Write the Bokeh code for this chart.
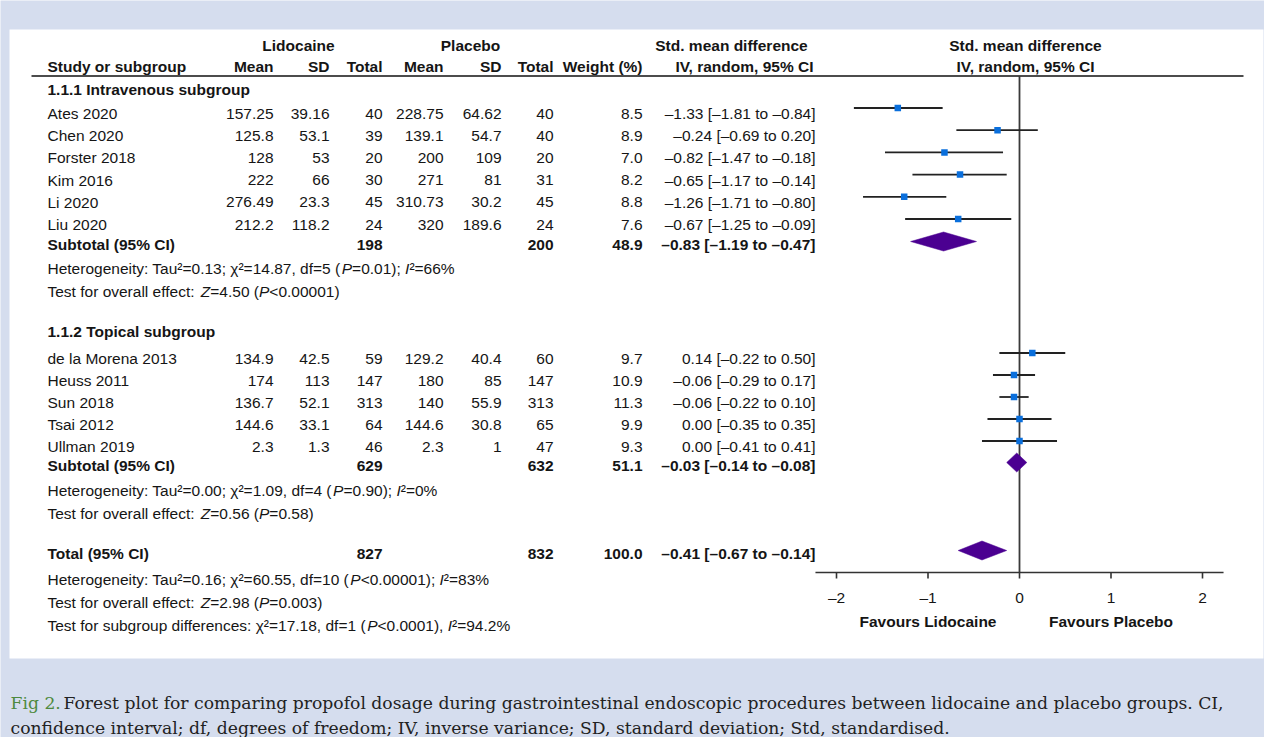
from bokeh.plotting import figure
from bokeh.models import Range1d
from bokeh.embed import file_html
from bokeh.resources import INLINE
from bokeh.core.properties import value

# ---------------- data ----------------
studies = ["Ates 2020", "Chen 2020", "Forster 2018", "Kim 2016", "Li 2020", "Liu 2020",
           "de la Morena 2013", "Heuss 2011", "Sun 2018", "Tsai 2012", "Ullman 2019"]
lid_mean = ["157.25", "125.8", "128", "222", "276.49", "212.2", "134.9", "174", "136.7", "144.6", "2.3"]
lid_sd = ["39.16", "53.1", "53", "66", "23.3", "118.2", "42.5", "113", "52.1", "33.1", "1.3"]
lid_n = [40, 39, 20, 30, 45, 24, 59, 147, 313, 64, 46]
pla_mean = ["228.75", "139.1", "200", "271", "310.73", "320", "129.2", "180", "140", "144.6", "2.3"]
pla_sd = ["64.62", "54.7", "109", "81", "30.2", "189.6", "40.4", "85", "55.9", "30.8", "1"]
pla_n = [40, 40, 20, 31, 45, 24, 60, 147, 313, 65, 47]
weight = [8.5, 8.9, 7.0, 8.2, 8.8, 7.6, 9.7, 10.9, 11.3, 9.9, 9.3]
smd = [-1.33, -0.24, -0.82, -0.65, -1.26, -0.67, 0.14, -0.06, -0.06, 0.00, 0.00]
ci_lo = [-1.81, -0.69, -1.47, -1.17, -1.71, -1.25, -0.22, -0.29, -0.22, -0.35, -0.41]
ci_hi = [-0.84, 0.20, -0.18, -0.14, -0.80, -0.09, 0.50, 0.17, 0.10, 0.35, 0.41]

sub_names = ["Subtotal (95% CI)", "Subtotal (95% CI)", "Total (95% CI)"]
sub_lid_n = [198, 629, 827]
sub_pla_n = [200, 632, 832]
sub_weight = [48.9, 51.1, 100.0]
sub_smd = [-0.83, -0.03, -0.41]
sub_lo = [-1.19, -0.14, -0.67]
sub_hi = [-0.47, 0.08, -0.14]
sub_ci_text = ["\u20130.83 [\u20131.19 to \u20130.47]",
               "\u20130.03 [\u20130.14 to \u20130.08]",
               "\u20130.41 [\u20130.67 to \u20130.14]"]

group_titles = ["1.1.1 Intravenous subgroup", "1.1.2 Topical subgroup"]

# *...* marks italic runs
stat_lines = [
    "Heterogeneity: Tau\u00b2=0.13; \u03c7\u00b2=14.87, df=5 (*P*=0.01); *I*\u00b2=66%",
    "Test for overall effect: *Z*=4.50 (*P*<0.00001)",
    "Heterogeneity: Tau\u00b2=0.00; \u03c7\u00b2=1.09, df=4 (*P*=0.90); *I*\u00b2=0%",
    "Test for overall effect: *Z*=0.56 (*P*=0.58)",
    "Heterogeneity: Tau\u00b2=0.16; \u03c7\u00b2=60.55, df=10 (*P*<0.00001); *I*\u00b2=83%",
    "Test for overall effect: *Z*=2.98 (*P*=0.003)",
    "Test for subgroup differences: \u03c7\u00b2=17.18, df=1 (*P*<0.0001), *I*\u00b2=94.2%",
]

axis_ticks = [-2, -1, 0, 1, 2]
tick_labels = ["\u20132", "\u20131", "0", "1", "2"]
favour_labels = ["Favours Lidocaine", "Favours Placebo"]
favour_at = [-1, 1]

caption_fig = "Fig 2."
caption_1 = ("Forest plot for comparing propofol dosage during gastrointestinal endoscopic "
             "procedures between lidocaine and placebo groups. CI,")
caption_2 = ("confidence interval; df, degrees of freedom; IV, inverse variance; "
             "SD, standard deviation; Std, standardised.")

# ---------------- layout / style ----------------
BG = "#d5ddee"
INK = "#151515"
FONT = "Liberation Sans"
FSZ = 15.5
FS = f"{FSZ}px"
ZERO_PX, UNIT_PX = 1019.0, 91.5
W, H = 1264, 737

study_y = [113, 135.2, 157.4, 179.6, 201.8, 224, 358, 380, 402, 424, 446]
sub_y = [244, 465, 553]
stat_y = [268, 291, 490, 513, 579, 602, 625]
group_y = [89, 331]
MARK_DY = 5.5
sub_mark_y = [241, 462, 550]
HALF_D = 9.5

COLS = dict(lm=273, lsd=329, ln=382, pm=443, psd=501, pn=553, w=642, ci=815)
LEFT = 47

p = figure(width=W, height=H, x_range=Range1d(0, W), y_range=Range1d(H, 0),
           output_backend="svg", toolbar_location=None, x_axis_location=None,
           y_axis_location=None, min_border=0, outline_line_color=None,
           background_fill_color=BG, border_fill_color=BG)
p.grid.visible = False
p.extra_x_ranges = {"smd": Range1d((0 - ZERO_PX) / UNIT_PX, (W - ZERO_PX) / UNIT_PX)}

# white panel
p.quad(left=[9], right=[1263], top=[29], bottom=[658], fill_color="white", line_color=None)


def txt(xs, ys, ss, align="left", style="normal", size=FS, color=INK, font=FONT, xr="default"):
    p.text(x=xs, y=ys, text=ss, text_align=align, text_baseline="middle",
           text_font=value(font), text_font_size=size, text_font_style=style,
           text_color=color, x_range_name=xr)


def fmt(v):
    s = f"{abs(v):.2f}"
    return "\u2013" + s if v < 0 else s


# headers
txt([298, 470, 731, 1025], [45, 45, 45, 45],
    ["Lidocaine", "Placebo", "Std. mean difference", "Std. mean difference"],
    align="center", style="bold")
txt([LEFT], [66], ["Study or subgroup"], style="bold")
hx = [COLS["lm"], COLS["lsd"], COLS["ln"], COLS["pm"], COLS["psd"], COLS["pn"], COLS["w"], 813]
txt(hx, [66] * len(hx), ["Mean", "SD", "Total", "Mean", "SD", "Total", "Weight (%)",
                         "IV, random, 95% CI"], align="right", style="bold")
txt([1025], [66], ["IV, random, 95% CI"], align="center", style="bold")
p.segment(x0=[31], x1=[1243], y0=[75.5], y1=[75.5], line_color="#111", line_width=1.6)

# group titles
txt([LEFT] * 2, group_y, group_titles, style="bold")

# study rows
n = len(studies)
txt([LEFT] * n, study_y, studies)
txt([COLS["lm"]] * n, study_y, lid_mean, align="right")
txt([COLS["lsd"]] * n, study_y, lid_sd, align="right")
txt([COLS["ln"]] * n, study_y, [str(v) for v in lid_n], align="right")
txt([COLS["pm"]] * n, study_y, pla_mean, align="right")
txt([COLS["psd"]] * n, study_y, pla_sd, align="right")
txt([COLS["pn"]] * n, study_y, [str(v) for v in pla_n], align="right")
txt([COLS["w"]] * n, study_y, [f"{v:.1f}" for v in weight], align="right")
txt([COLS["ci"]] * n, study_y,
    [f"{fmt(m)} [{fmt(a)} to {fmt(b)}]" for m, a, b in zip(smd, ci_lo, ci_hi)], align="right")

# subtotal rows
txt([LEFT] * 3, sub_y, sub_names, style="bold")
txt([COLS["ln"]] * 3, sub_y, [str(v) for v in sub_lid_n], align="right", style="bold")
txt([COLS["pn"]] * 3, sub_y, [str(v) for v in sub_pla_n], align="right", style="bold")
txt([COLS["w"]] * 3, sub_y, [f"{v:.1f}" for v in sub_weight], align="right", style="bold")
txt([COLS["ci"]] * 3, sub_y, sub_ci_text, align="right", style="bold")

# statistics lines with italic runs
AW = {' ': 278, '(': 333, ')': 333, '%': 889, ',': 278, '-': 333, '.': 278, ':': 278,
      ';': 278, '<': 584, '=': 584, '>': 584, '\u00b2': 333, '\u03c7': 500,
      'A': 667, 'B': 667, 'C': 722, 'D': 722, 'E': 667, 'F': 611, 'G': 778, 'H': 722,
      'I': 278, 'J': 500, 'K': 667, 'L': 556, 'M': 833, 'N': 722, 'O': 778, 'P': 667,
      'Q': 778, 'R': 722, 'S': 667, 'T': 611, 'U': 722, 'V': 667, 'W': 944, 'X': 667,
      'Y': 667, 'Z': 611, 'a': 556, 'b': 556, 'c': 500, 'd': 556, 'e': 556, 'f': 278,
      'g': 556, 'h': 556, 'i': 222, 'j': 222, 'k': 500, 'l': 222, 'm': 833, 'n': 556,
      'o': 556, 'p': 556, 'q': 556, 'r': 333, 's': 500, 't': 278, 'u': 556, 'v': 500,
      'w': 722, 'x': 500, 'y': 500, 'z': 500}


def width(s):
    return sum(AW.get(ch, 556) for ch in s) * FSZ / 1000.0


runs = {"normal": ([], [], []), "italic": ([], [], [])}
for line, y in zip(stat_lines, stat_y):
    x = LEFT
    for i, seg in enumerate(line.split("*")):
        if not seg:
            continue
        st = "italic" if i % 2 else "normal"
        runs[st][0].append(x)
        runs[st][1].append(y)
        runs[st][2].append(seg)
        x += width(seg)
for st, (xs, ys, ss) in runs.items():
    txt(xs, ys, ss, style=st)

# ---------------- forest marks ----------------
mark_y = [y - MARK_DY for y in study_y]
p.segment(x0=[0], x1=[0], y0=[75.5], y1=[572], line_color="#3a3a3a", line_width=1.8,
          x_range_name="smd")
p.segment(x0=ci_lo, x1=ci_hi, y0=mark_y, y1=mark_y, line_color="#222222", line_width=1.8,
          x_range_name="smd")
p.scatter(x=smd, y=mark_y, marker="square", size=6.5, fill_color="#0a6fdc",
          line_color=None, x_range_name="smd")
for lo, m, hi, y in zip(sub_lo, sub_smd, sub_hi, sub_mark_y):
    p.patch(x=[lo, m, hi, m], y=[y, y - HALF_D, y, y + HALF_D], fill_color="#4b0091",
            line_color="#4b0091", line_width=0.5, x_range_name="smd")

# axis
AX_Y = 572
p.segment(x0=[-2.23], x1=[2.23], y0=[AX_Y], y1=[AX_Y], line_color="#333333", line_width=1.6,
          x_range_name="smd")
p.segment(x0=axis_ticks, x1=axis_ticks, y0=[AX_Y] * 5, y1=[AX_Y + 6] * 5,
          line_color="#333333", line_width=1.6, x_range_name="smd")
txt(axis_ticks, [597] * 5, tick_labels, align="center", xr="smd")
txt(favour_at, [621] * 2, favour_labels, align="center", style="bold", xr="smd")

# caption
CAP_FONT = "DejaVu Serif"
CAP_FS = "17.2px"
p.text(x=[10], y=[702], text=[caption_fig], text_align="left", text_baseline="alphabetic",
       text_font=value(CAP_FONT), text_font_size=CAP_FS, text_color="#4e8a3e")
p.text(x=[63, 10], y=[702, 727], text=[caption_1, caption_2], text_align="left",
       text_baseline="alphabetic", text_font=value(CAP_FONT), text_font_size=CAP_FS,
       text_color="#222222")

open("out.html", "w").write(file_html(p, INLINE))
